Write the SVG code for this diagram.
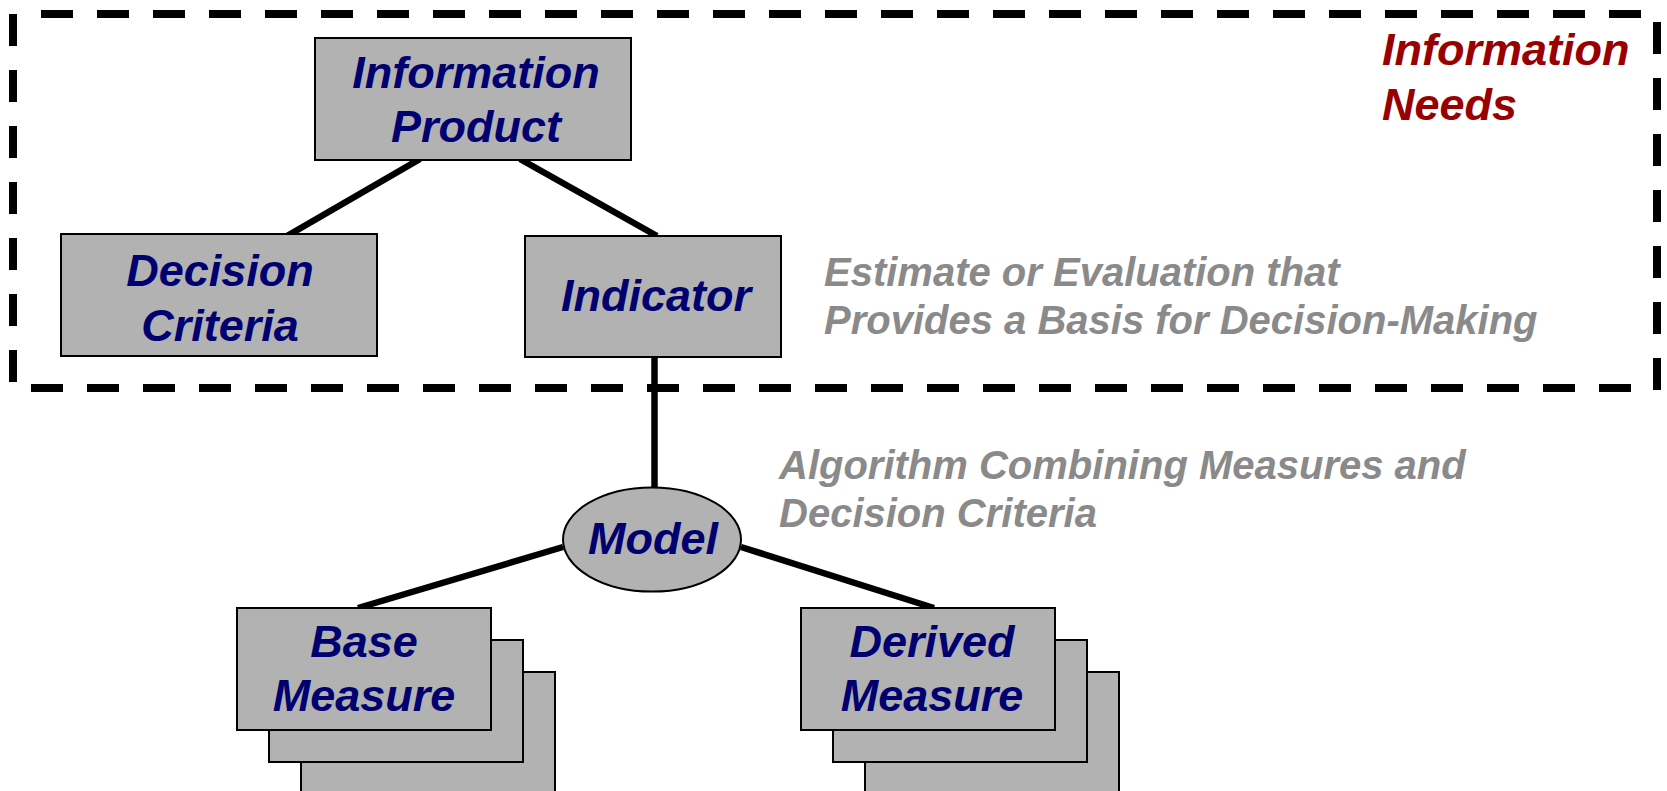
<svg xmlns="http://www.w3.org/2000/svg" width="1667" height="791" viewBox="0 0 1667 791">
<style>
.box{fill:#b2b2b2;stroke:#000;stroke-width:2}
.lbl{font-family:"Liberation Sans",Arial,sans-serif;font-weight:bold;font-style:italic;font-size:45px;fill:#000070;text-anchor:middle}
.note{font-family:"Liberation Sans",Arial,sans-serif;font-weight:bold;font-style:italic;font-size:40px;fill:#8a8a8a}
.title{font-family:"Liberation Sans",Arial,sans-serif;font-weight:bold;font-style:italic;font-size:45px;fill:#990000}
.dash{stroke:#000;stroke-width:8;stroke-dasharray:32 24;fill:none}
.conn{stroke:#000;stroke-width:6.5;fill:none}
</style>
<rect width="1667" height="791" fill="#fff"/>
<g id="region-information-needs">
<line class="dash" x1="41" y1="14" x2="1641" y2="14"/>
<line class="dash" x1="31" y1="388" x2="1631" y2="388"/>
<line class="dash" x1="13" y1="14" x2="13" y2="382"/>
<line class="dash" x1="1657" y1="22" x2="1657" y2="390"/>
<text class="title" x="1382" y="65">Information</text>
<text class="title" x="1382" y="120">Needs</text>
</g>
<g id="connectors">
<line class="conn" x1="420" y1="159" x2="287" y2="236"/>
<line class="conn" x1="520" y1="159" x2="657" y2="236"/>
<line class="conn" x1="654.5" y1="357" x2="654.5" y2="491"/>
<line class="conn" x1="563" y1="547" x2="358" y2="608"/>
<line class="conn" x1="741" y1="547" x2="934" y2="608"/>
</g>
<g id="information-product">
<rect class="box" x="315" y="38" width="316" height="122"/>
<text class="lbl" x="476" y="88">Information</text>
<text class="lbl" x="476" y="142">Product</text>
</g>
<g id="decision-criteria">
<rect class="box" x="61" y="234" width="316" height="122"/>
<text class="lbl" x="220" y="286">Decision</text>
<text class="lbl" x="220" y="341">Criteria</text>
</g>
<g id="indicator">
<rect class="box" x="525" y="236" width="256" height="121"/>
<text class="lbl" x="656" y="311">Indicator</text>
</g>
<g id="model">
<ellipse class="box" cx="652" cy="539.5" rx="89" ry="52"/>
<text class="lbl" x="653" y="554">Model</text>
</g>
<g id="base-measure">
<rect class="box" x="301" y="672" width="254" height="122"/>
<rect class="box" x="269" y="640" width="254" height="122"/>
<rect class="box" x="237" y="608" width="254" height="122"/>
<text class="lbl" x="364" y="657">Base</text>
<text class="lbl" x="364" y="711">Measure</text>
</g>
<g id="derived-measure">
<rect class="box" x="865" y="672" width="254" height="122"/>
<rect class="box" x="833" y="640" width="254" height="122"/>
<rect class="box" x="801" y="608" width="254" height="122"/>
<text class="lbl" x="932" y="657">Derived</text>
<text class="lbl" x="932" y="711">Measure</text>
</g>
<g id="notes">
<text class="note" x="824" y="286">Estimate or Evaluation that</text>
<text class="note" x="824" y="334">Provides a Basis for Decision-Making</text>
<text class="note" x="779" y="479">Algorithm Combining Measures and</text>
<text class="note" x="779" y="527">Decision Criteria</text>
</g>
</svg>
